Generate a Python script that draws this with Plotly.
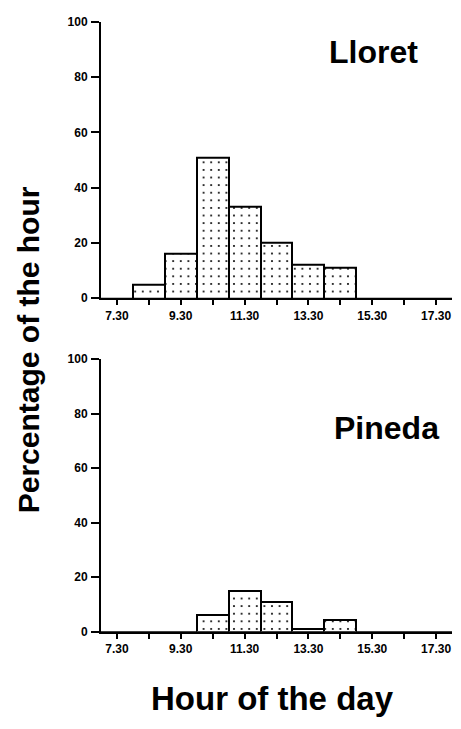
import plotly.graph_objects as go

hours = [7.5, 8.5, 9.5, 10.5, 11.5, 12.5, 13.5, 14.5, 15.5, 16.5, 17.5]
tick_labels = ["7.30", "", "9.30", "", "11.30", "", "13.30", "", "15.30", "", "17.30"]
lloret = [0, 5, 16, 51, 33, 20, 12, 11, 0, 0, 0]
pineda = [0, 0, 0, 6, 15, 11, 1, 4.2, 0, 0, 0]
y_ticks = [0, 20, 40, 60, 80, 100]

W, H = 461, 729
FONT = "Arial, Liberation Sans, Helvetica, sans-serif"

def bar(vals, xa, ya):
    return go.Bar(
        x=hours, y=vals, width=1.0, xaxis=xa, yaxis=ya,
        marker=dict(color="white",
                    line=dict(color="black", width=2),
                    pattern=dict(shape=".", fgcolor="black", bgcolor="white",
                                 size=7.6, solidity=0.06, fillmode="replace")),
        showlegend=False, hoverinfo="skip")

fig = go.Figure()
fig.add_trace(bar(lloret, "x", "y"))
fig.add_trace(bar(pineda, "x2", "y2"))

xd = [101 / W, 452 / W]
xcommon = dict(range=[7, 18], tickvals=hours, ticktext=tick_labels,
               ticks="outside", ticklen=5, tickwidth=1.5, tickcolor="black",
               showline=True, linecolor="black", linewidth=2, showgrid=False,
               zeroline=False, domain=xd,
               tickfont=dict(family=FONT, size=12, color="black", weight="bold"))
ycommon = dict(range=[0, 100], tickvals=y_ticks,
               ticks="outside", ticklen=8, tickwidth=1.5, tickcolor="black",
               showline=True, linecolor="black", linewidth=2, showgrid=False,
               zeroline=False, ticklabelstandoff=1,
               tickfont=dict(family=FONT, size=12, color="black", weight="bold"))

fig.update_layout(
    width=W, height=H, margin=dict(l=0, r=0, t=0, b=0),
    paper_bgcolor="white", plot_bgcolor="white", bargap=0,
    xaxis=dict(xcommon, anchor="y"),
    yaxis=dict(ycommon, anchor="x", domain=[1 - 297 / H, 1 - 15 / H]),
    xaxis2=dict(xcommon, anchor="y2"),
    yaxis2=dict(ycommon, anchor="x2", domain=[1 - 637 / H, 1 - 359 / H]),
)

def ann(text, x, y, size, angle=0):
    fig.add_annotation(text=text, x=x / W, y=1 - y / H, xref="paper", yref="paper",
                       xanchor="center", yanchor="middle", showarrow=False,
                       textangle=angle,
                       font=dict(family=FONT, size=size, color="black", weight="bold"))

ann("Lloret", 373, 46, 32)
ann("Pineda", 386, 429, 32)
ann("Percentage of the hour", 28, 350, 30, -90)
ann("Hour of the day", 272, 705, 33)

fig.write_html("out.html", config={"displayModeBar": False},
               post_script="document.body.style.margin='0';document.body.style.overflow='hidden';")
